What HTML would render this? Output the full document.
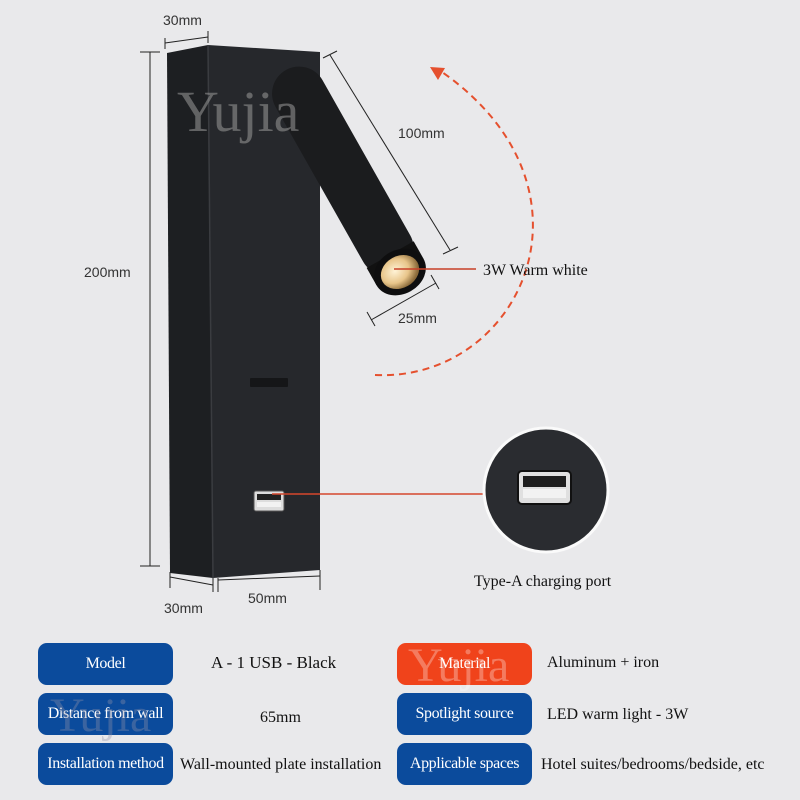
<!DOCTYPE html>
<html><head><meta charset="utf-8"><style>
body{margin:0;width:800px;height:800px;background:#e9e9eb;overflow:hidden;font-family:"Liberation Serif",serif}
.b{position:absolute;width:135px;height:42px;border-radius:9px;background:#0b4b9c;color:#fff;font-size:16px;letter-spacing:-0.4px;display:flex;align-items:center;justify-content:center;white-space:nowrap}
.t{position:absolute;font-size:16px;color:#111;white-space:nowrap}
</style></head><body>
<svg width="800" height="640" style="position:absolute;left:0;top:0" font-family="Liberation Sans, sans-serif">
<defs><radialGradient id="lens" cx="0.4" cy="0.4" r="0.6"><stop offset="0" stop-color="#fff3d6"/><stop offset="0.6" stop-color="#e8c58a"/><stop offset="1" stop-color="#8a6a3a"/></radialGradient></defs>
<polygon points="167,53 208,45 213,578 170,573" fill="#1d1f22"/>
<polygon points="208,45 320,52 320,570 213,578" fill="#26282c"/>
<line x1="208" y1="45" x2="213" y2="578" stroke="#3a3c40" stroke-width="1.5"/>
<rect x="250" y="378" width="38" height="9" rx="1" fill="#151618"/>
<rect x="254" y="491" width="30" height="20" rx="2" fill="#ddd" stroke="#555"/>
<rect x="257" y="494" width="24" height="6" fill="#222"/>
<rect x="257" y="502" width="24" height="5" fill="#f2f2f2"/>
<g transform="translate(400,272) rotate(-29.5)">
<rect x="-27" y="-232" width="54" height="232" rx="27" fill="#1b1c1e"/>
<rect x="-27" y="-20" width="54" height="20" fill="#111"/>
<ellipse cx="0" cy="0" rx="27" ry="22" fill="#0e0e0f"/>
<ellipse cx="0" cy="0" rx="20" ry="16" fill="url(#lens)"/>
</g>
<g stroke="#222" stroke-width="1" fill="none">
<line x1="150" y1="52" x2="150" y2="566"/><line x1="140" y1="52" x2="160" y2="52"/><line x1="140" y1="566" x2="160" y2="566"/>
<line x1="165" y1="43" x2="208" y2="37"/><line x1="165" y1="38" x2="165" y2="49"/><line x1="208" y1="31" x2="208" y2="43"/>
<line x1="330" y1="55" x2="450" y2="250"/><line x1="323" y1="58" x2="337" y2="51"/><line x1="443" y1="254" x2="458" y2="247"/>
<line x1="371" y1="320" x2="436" y2="283"/><line x1="367" y1="312" x2="375" y2="326"/><line x1="431" y1="275" x2="439" y2="289"/>
<line x1="170" y1="577" x2="213" y2="585"/><line x1="170" y1="572" x2="170" y2="588"/><line x1="213" y1="578" x2="213" y2="592"/>
<line x1="218" y1="580" x2="320" y2="576"/><line x1="218" y1="578" x2="218" y2="592"/><line x1="320" y1="570" x2="320" y2="590"/>
</g>
<g font-size="14" fill="#333">
<text x="163" y="25">30mm</text>
<text x="398" y="138">100mm</text>
<text x="398" y="323">25mm</text>
<text x="84" y="277">200mm</text>
<text x="164" y="613">30mm</text>
<text x="248" y="603">50mm</text>
</g>
<path d="M375,375 C520,382 610,190 442,72" stroke="#e5502e" stroke-width="2" stroke-dasharray="7,5" fill="none"/>
<polygon points="430,67 445,68 438,80" fill="#e5502e"/>
<line x1="394" y1="269" x2="476" y2="269" stroke="#c84028" stroke-width="1.5"/>
<text x="483" y="275" font-family="Liberation Serif, serif" font-size="16" fill="#111">3W Warm white</text>
<line x1="272" y1="494" x2="487" y2="494" stroke="#d5472c" stroke-width="1.5"/>
<circle cx="546" cy="490" r="62" fill="#2a2c30" stroke="#fafafa" stroke-width="3"/>
<rect x="518" y="471" width="53" height="33" rx="4" fill="#e0e0e0" stroke="#111" stroke-width="2"/>
<rect x="523" y="476" width="43" height="11" fill="#1e1e1e"/>
<rect x="523" y="489" width="43" height="9" fill="#f2f2f2"/>
<text x="474" y="586" font-family="Liberation Serif, serif" font-size="16" fill="#111">Type-A charging port</text>
<text x="177" y="131" font-family="Liberation Serif, serif" font-size="58" fill="#9a9a9a" fill-opacity="0.55">Yujia</text>
</svg>
<div class="b" style="left:38px;top:643px">Model</div>
<div class="b" style="left:38px;top:693px">Distance from wall</div>
<div class="b" style="left:38px;top:743px">Installation method</div>
<div class="b" style="left:397px;top:643px;background:#f0431b">Material</div>
<div class="b" style="left:397px;top:693px">Spotlight source</div>
<div class="b" style="left:397px;top:743px">Applicable spaces</div>
<div class="t" style="left:211px;top:653px;font-size:17px">A - 1 USB - Black</div>
<div class="t" style="left:260px;top:709px">65mm</div>
<div class="t" style="left:180px;top:756px">Wall-mounted plate installation</div>
<div class="t" style="left:547px;top:654px">Aluminum + iron</div>
<div class="t" style="left:547px;top:706px">LED warm light - 3W</div>
<div class="t" style="left:541px;top:756px">Hotel suites/bedrooms/bedside, etc</div>
<div style="position:absolute;left:408px;top:638px;font:48px 'Liberation Serif',serif;color:rgba(255,255,255,0.3)">Yujia</div>
<div style="position:absolute;left:50px;top:688px;font:48px 'Liberation Serif',serif;color:rgba(150,150,170,0.35)">Yujia</div>
</body></html>
